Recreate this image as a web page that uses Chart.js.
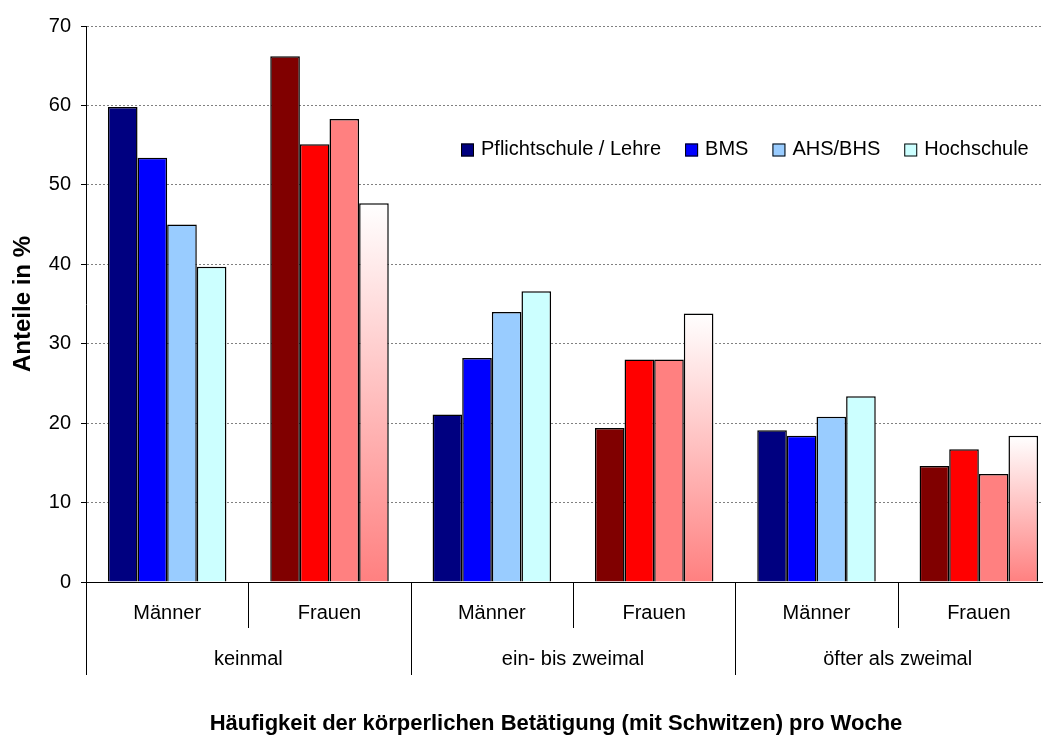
<!DOCTYPE html>
<html lang="de">
<head>
<meta charset="utf-8">
<title>Häufigkeit der körperlichen Betätigung</title>
<script src="https://cdn.jsdelivr.net/npm/chart.js@4.4.1/dist/chart.umd.min.js"></script>
<style>
  html, body { margin: 0; padding: 0; overflow: hidden; background: #ffffff; }
  #wrap { width: 1060px; height: 735px; }
</style>
</head>
<body>
<div id="wrap"><canvas id="chart" width="1060" height="735"></canvas></div>
<script>
// Sex per bar group, and frequency class for each pair of groups
const categories = ['Männer', 'Frauen', 'Männer', 'Frauen', 'Männer', 'Frauen'];
const frequencyGroups = ['keinmal', 'ein- bis zweimal', 'öfter als zweimal'];

// Share in % by highest completed education
const pflichtschule = [59.8, 66.2, 21.1, 19.4, 19.1, 14.6];
const bms           = [53.4, 55.1, 28.2, 28.0, 18.4, 16.7];
const ahsBhs        = [45.0, 58.3, 34.0, 28.0, 20.8, 13.6];
const hochschule    = [39.7, 47.7, 36.6, 33.8, 23.4, 18.4];

const seriesLabels = ['Pflichtschule / Lehre', 'BMS', 'AHS/BHS', 'Hochschule'];
const yAxisTitle = 'Anteile in %';
const xAxisTitle = 'Häufigkeit der körperlichen Betätigung (mit Schwitzen) pro Woche';

const FONT = '"Liberation Sans", Arial, Helvetica, sans-serif';

// [men colour, women colour] per education level
const palette = [
  ['#000080', '#800000'],
  ['#0000FF', '#FF0000'],
  ['#99CCFF', '#FF8080'],
  ['#CCFFFF', 'gradient']
];

function barColour(seriesIndex) {
  return (c) => {
    const pair = palette[seriesIndex];
    const col = pair[c.dataIndex % 2];
    if (col !== 'gradient') return col;
    const y = c.chart.scales.y;
    if (!y || c.raw == null) return '#FF8080';
    const top = y.getPixelForValue(c.raw);
    const base = y.getPixelForValue(0);
    if (!isFinite(top) || !isFinite(base)) return '#FF8080';
    const g = c.chart.ctx.createLinearGradient(0, top, 0, base);
    g.addColorStop(0, '#FFFFFF');
    g.addColorStop(1, '#FF8080');
    return g;
  };
}

const seriesValues = [pflichtschule, bms, ahsBhs, hochschule];
const datasets = seriesValues.map((vals, i) => ({
  label: seriesLabels[i],
  data: vals,
  backgroundColor: barColour(i),
  borderColor: '#000000',
  borderWidth: 1.5,
  borderSkipped: 'bottom',
  barPercentage: 1.0,
  categoryPercentage: 0.73
}));

// Legend inside the plot, two-level category axis and the axis title
const decorations = {
  id: 'decorations',
  beforeDraw(chart) {
    const ctx = chart.ctx;
    ctx.save();
    ctx.fillStyle = '#ffffff';
    ctx.fillRect(0, 0, chart.width, chart.height);
    ctx.restore();
  },
  afterDraw(chart) {
    const ctx = chart.ctx;
    const x = chart.scales.x;
    const bottom = chart.chartArea.bottom;
    ctx.save();

    // category separators: short ones between sexes, long ones between frequency classes
    ctx.strokeStyle = '#000000';
    ctx.lineWidth = 1;
    for (let i = 0; i <= categories.length; i++) {
      const px = Math.round(x.getPixelForValue(i - 0.5)) + 0.5;
      const len = (i % 2 === 0) ? 93 : 46;
      ctx.beginPath();
      ctx.moveTo(px, bottom);
      ctx.lineTo(px, bottom + len);
      ctx.stroke();
    }

    // frequency class labels
    ctx.fillStyle = '#000000';
    ctx.font = '20px ' + FONT;
    ctx.textAlign = 'center';
    ctx.textBaseline = 'middle';
    frequencyGroups.forEach((g, k) => {
      ctx.fillText(g, x.getPixelForValue(2 * k + 0.5), 659);
    });

    // axis title
    ctx.font = 'bold 22px ' + FONT;
    ctx.fillText(xAxisTitle, 556, 724);

    // legend
    ctx.font = '20px ' + FONT;
    ctx.textAlign = 'left';
    let lx = 461;
    const box = 13, boxTop = 143.5, gapBox = 7, gapItem = 24;
    chart.data.datasets.forEach((ds, i) => {
      ctx.fillStyle = palette[i][0];
      ctx.fillRect(lx, boxTop, box, box);
      ctx.strokeStyle = '#000000';
      ctx.lineWidth = 1;
      ctx.strokeRect(lx + 0.5, boxTop + 0.5, box - 1, box - 1);
      ctx.fillStyle = '#000000';
      ctx.fillText(ds.label, lx + box + gapBox, 149);
      lx += box + gapBox + ctx.measureText(ds.label).width + gapItem;
    });
    ctx.restore();
  }
};

new Chart(document.getElementById('chart'), {
  type: 'bar',
  data: { labels: categories, datasets },
  options: {
    responsive: false,
    animation: false,
    devicePixelRatio: 1,
    layout: { padding: { top: 26, right: 0, bottom: 0, left: 0 } },
    plugins: {
      legend: { display: false },
      tooltip: { enabled: false }
    },
    scales: {
      x: {
        grid: { display: false, drawTicks: false },
        border: { display: true, color: '#000000', width: 1 },
        ticks: {
          color: '#000000',
          font: { family: FONT, size: 20 },
          padding: 19,
          maxRotation: 0,
          autoSkip: false
        },
        afterFit(scale) { scale.height = 153; }
      },
      y: {
        min: 0,
        max: 70,
        ticks: {
          stepSize: 10,
          color: '#000000',
          font: { family: FONT, size: 20 },
          padding: 10
        },
        grid: {
          color: '#808080',
          lineWidth: 1,
          tickColor: '#000000',
          tickLength: 5
        },
        border: { display: true, color: '#000000', width: 1, dash: [2, 2] },
        title: {
          display: true,
          text: yAxisTitle,
          color: '#000000',
          font: { family: FONT, size: 24, weight: 'bold', lineHeight: 1 },
          padding: { top: 11, bottom: 0 }
        },
        afterFit(scale) { scale.width = 86; }
      }
    }
  },
  plugins: [decorations]
});
</script>
</body>
</html>
